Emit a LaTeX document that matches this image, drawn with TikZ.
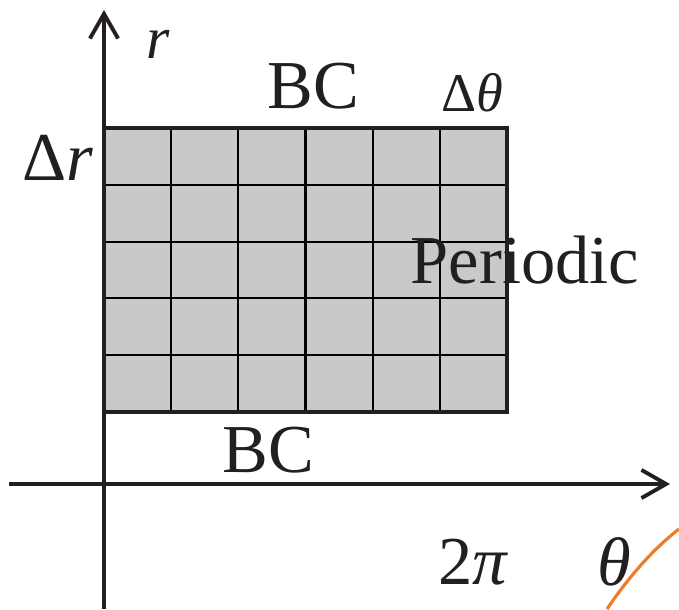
\documentclass[tikz,border=0pt]{standalone}
\usepackage{fontspec}
\setmainfont{Liberation Serif}
\usetikzlibrary{arrows.meta}

\begin{document}
\begin{tikzpicture}[x=0.01cm,y=-0.01cm,
    axisline/.style={line width=1.15pt,draw=axisColour,-{Straight Barb[length=7pt,width=8pt,line width=1.1pt]}},
    bigtext/.style={font=\fontsize{19.5}{20}\selectfont,inner sep=0pt,text=axisColour},
    smalltext/.style={font=\fontsize{15.5}{16}\selectfont,inner sep=0pt,text=axisColour}]
    \def\cellW{67.17}
    \def\cellH{56.8}
    \definecolor{axisColour}{HTML}{231F20}
    \definecolor{cellGrey}{HTML}{C8C9CB}
    \definecolor{curveOrange}{HTML}{EE7D2B}

    \useasboundingbox (0,0) rectangle (679,609);

    % Axes
    \coordinate (rStart) at (104,609);
    \coordinate (rEnd) at (104,10);
    \coordinate (tStart) at (9,484);
    \coordinate (tEnd) at (670,484);
    \draw[axisline] (rStart) -- (rEnd);
    \draw[axisline] (tStart) -- (tEnd);

    % Grid of cells
    \coordinate (gridSW) at (104,412);
    \coordinate (gridNE) at (507,128);
    \fill[cellGrey] (gridSW) rectangle (gridNE);
    \foreach \i in {1,...,5}
        \draw[line width=0.6pt,black] (104+\i*\cellW,128) -- (104+\i*\cellW,412);
    \foreach \j in {1,...,4}
        \draw[line width=0.6pt,black] (104,128+\j*\cellH) -- (507,128+\j*\cellH);
    \draw[line width=1.15pt,draw=axisColour] (gridSW) rectangle (gridNE);

    % Labels
    \node[smalltext,font=\fontsize{17}{18}\selectfont] (rLabel) at (158,44) {\itshape r};
    \node[bigtext] (bcTop) at (313,86) {BC};
    \node[smalltext] (dTheta) at (472,93) {Δ\itshape θ};
    \node[bigtext] (dR) at (58,158) {Δ\itshape r};
    \node[bigtext] (periodic) at (525,260) {Periodic};
    \node[bigtext] (bcBottom) at (268,450) {BC};
    \node[bigtext] (twoPi) at (473,562) {2\itshape π};
    \node[bigtext] (thetaLabel) at (614,562) {\itshape θ};

    % Orange stroke
    \coordinate (arcStart) at (607,609);
    \coordinate (arcEnd) at (679,529);
    \draw[curveOrange,line width=0.9pt] (arcStart) .. controls (628,578) and (652,550) .. (arcEnd);

\end{tikzpicture}
\end{document}
